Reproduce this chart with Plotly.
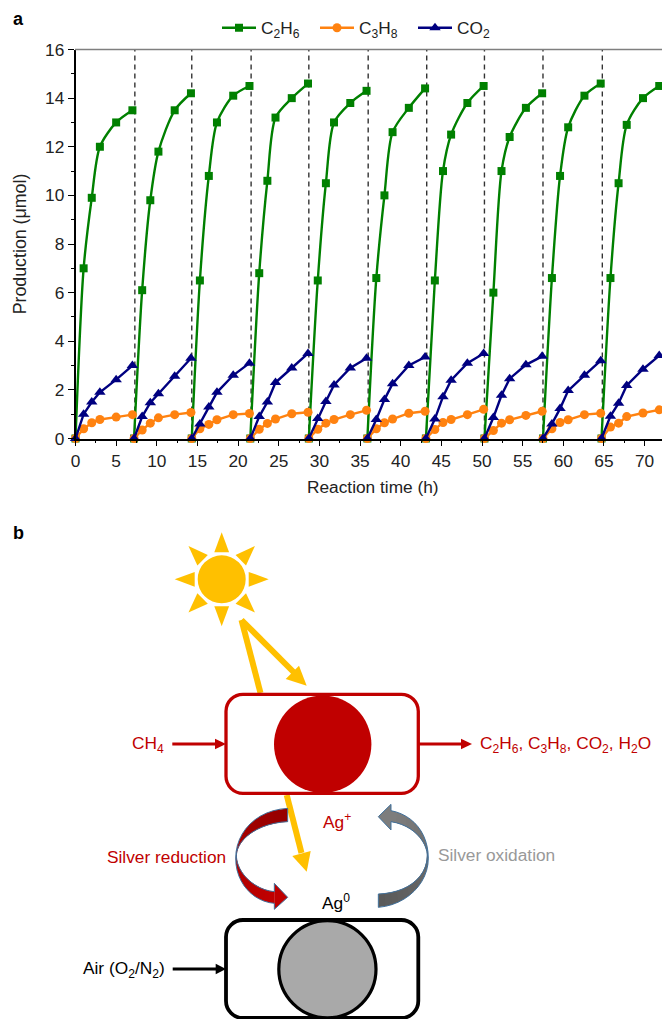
import math
import plotly.graph_objects as go

# ---------- data ----------
series_names = ["C<sub>2</sub>H<sub>6</sub>", "C<sub>3</sub>H<sub>8</sub>", "CO<sub>2</sub>"]
cycle_times = [
    [0, 1, 2, 3, 5, 7],
    [7.2, 8.2, 9.2, 10.2, 12.2, 14.2],
    [14.3, 15.3, 16.4, 17.4, 19.4, 21.4],
    [21.5, 22.6, 23.6, 24.6, 26.6, 28.6],
    [28.7, 29.8, 30.8, 31.8, 33.8, 35.8],
    [35.9, 37.0, 38.0, 39.0, 41.0, 43.0],
    [43.1, 44.2, 45.2, 46.2, 48.2, 50.2],
    [50.3, 51.4, 52.4, 53.4, 55.4, 57.4],
    [57.5, 58.6, 59.6, 60.6, 62.6, 64.6],
    [64.7, 65.8, 66.8, 67.8, 69.8, 71.8],
]
c2h6 = [
    [0, 7.0, 9.9, 12.0, 13.0, 13.5],
    [0, 6.1, 9.8, 11.8, 13.5, 14.2],
    [0, 6.5, 10.8, 13.0, 14.1, 14.5],
    [0, 6.8, 10.6, 13.2, 14.0, 14.6],
    [0, 6.5, 10.5, 13.0, 13.8, 14.3],
    [0, 6.6, 10.0, 12.6, 13.6, 14.4],
    [0, 6.5, 11.0, 12.5, 13.8, 14.5],
    [0, 6.0, 11.0, 12.4, 13.6, 14.2],
    [0, 6.6, 10.8, 12.8, 14.1, 14.6],
    [0, 6.6, 10.5, 12.9, 14.0, 14.5],
]
c3h8 = [
    [0, 0.40, 0.65, 0.78, 0.88, 0.98],
    [0, 0.35, 0.63, 0.85, 0.98, 1.07],
    [0, 0.40, 0.58, 0.77, 0.98, 1.03],
    [0, 0.38, 0.62, 0.80, 1.02, 1.08],
    [0, 0.38, 0.63, 0.78, 0.98, 1.16],
    [0, 0.40, 0.65, 0.80, 1.04, 1.12],
    [0, 0.37, 0.66, 0.78, 0.98, 1.20],
    [0, 0.33, 0.63, 0.77, 0.95, 1.12],
    [0, 0.40, 0.66, 0.77, 0.98, 1.04],
    [0, 0.47, 0.63, 0.90, 1.05, 1.18],
]
co2 = [
    [0, 1.00, 1.50, 1.90, 2.42, 3.00],
    [0, 0.90, 1.47, 1.84, 2.56, 3.30],
    [0, 0.60, 1.30, 1.90, 2.60, 3.10],
    [0, 0.90, 1.50, 2.30, 2.90, 3.50],
    [0, 0.82, 1.52, 2.20, 2.90, 3.30],
    [0, 0.78, 1.60, 2.25, 3.00, 3.35],
    [0, 0.80, 1.72, 2.40, 3.10, 3.50],
    [0, 0.86, 1.78, 2.46, 3.03, 3.38],
    [0, 0.60, 1.23, 1.97, 2.60, 3.20],
    [0, 0.92, 1.45, 2.18, 2.85, 3.41],
]
switch_times = [7.3, 14.3, 21.6, 28.7, 36.0, 43.2, 50.3, 57.5, 64.8]

W, H = 662, 1019
RED = "#C00000"
YEL = "#FFC000"
BLUE_EDGE = "#41719C"
FONT = "Liberation Sans, Arial, sans-serif"
TS = 17.3


def X(p):
    return p / W


def Y(p):
    return 1 - p / H


def flat(times, values):
    xs, ys = [], []
    for t, v in zip(times, values):
        xs += list(t) + [None]
        ys += list(v) + [None]
    return xs, ys


fig = go.Figure()
styles = [
    (c2h6, "#008000", "square", 8, "spline"),
    (c3h8, "#FF8210", "circle", 9, "linear"),
    (co2, "#000080", "triangle-up", 10, "linear"),
]
for name, (vals, col, sym, size, shape) in zip(series_names, styles):
    xs, ys = flat(cycle_times, vals)
    line = dict(color=col, width=2.4, shape=shape)
    if shape == "spline":
        line["smoothing"] = 0.8
    fig.add_trace(go.Scatter(x=xs, y=ys, name=name, mode="lines+markers", cliponaxis=False,
                             connectgaps=False, line=line,
                             marker=dict(symbol=sym, size=size, color=col, line=dict(width=0))))

shapes = []
for t in switch_times:
    shapes.append(dict(type="line", xref="x", yref="y", x0=t, x1=t, y0=0, y1=16, layer="below",
                       line=dict(color="#333333", width=1.4, dash="5px,4px")))
# grey top edge of the plot
shapes.append(dict(type="line", xref="paper", yref="paper", x0=X(75), x1=1, y0=Y(49.5), y1=Y(49.5),
                   line=dict(color="#7F7F7F", width=1.5)))


def poly(pts, **kw):
    d = "M " + " L ".join(f"{X(a):.5f},{Y(b):.5f}" for a, b in pts) + " Z"
    shapes.append(dict(type="path", xref="paper", yref="paper", path=d, **kw))


def round_rect(l, t, r, b, rad, color, width):
    k = rad * 0.45
    pts = [("M", l + rad, t), ("L", r - rad, t),
           ("C", r - k, t, r, t + k, r, t + rad), ("L", r, b - rad),
           ("C", r, b - k, r - k, b, r - rad, b), ("L", l + rad, b),
           ("C", l + k, b, l, b - k, l, b - rad), ("L", l, t + rad),
           ("C", l, t + k, l + k, t, l + rad, t)]
    d = ""
    for p in pts:
        c = p[1:]
        d += p[0] + " " + " ".join(f"{X(c[i]):.5f},{Y(c[i + 1]):.5f}" for i in range(0, len(c), 2)) + " "
    shapes.append(dict(type="path", xref="paper", yref="paper", path=d + "Z",
                       line=dict(color=color, width=width), fillcolor="rgba(0,0,0,0)"))


def circle(cx, cy, r, fill, edge=None, ew=0):
    shapes.append(dict(type="circle", xref="paper", yref="paper", x0=X(cx - r), x1=X(cx + r),
                       y0=Y(cy + r), y1=Y(cy - r), fillcolor=fill,
                       line=dict(color=edge or fill, width=ew)))


def seg(x0, y0, x1, y1, color, width):
    shapes.append(dict(type="line", xref="paper", yref="paper", x0=X(x0), x1=X(x1), y0=Y(y0), y1=Y(y1),
                       line=dict(color=color, width=width)))


# sun
SX, SY = 221.7, 579.3
circle(SX, SY, 24, YEL)
for i in range(8):
    a = i * math.pi / 4
    ca, sa = math.cos(a), math.sin(a)
    poly([(SX + 47 * ca, SY + 47 * sa),
          (SX + 27 * ca - 7.4 * sa, SY + 27 * sa + 7.4 * ca),
          (SX + 27 * ca + 7.4 * sa, SY + 27 * sa - 7.4 * ca)], fillcolor=YEL, line=dict(width=0))

# light rays
seg(241.5, 620, 260.5, 693, YEL, 6)
seg(241.5, 620, 294, 672.5, YEL, 6)
poly([(306.7, 685.7), (285.7, 679), (299, 665.7)], fillcolor=YEL, line=dict(width=0))
seg(286.7, 795, 301.5, 853, YEL, 6)
poly([(306.7, 871.7), (292.3, 856), (310.7, 851)], fillcolor=YEL, line=dict(width=0))

# particles
round_rect(226, 694.3, 418.3, 793.3, 17, RED, 3.3)
circle(322.7, 744.3, 48.7, RED)
round_rect(226, 920, 418.3, 1018, 17, "#000000", 3.8)
circle(327.4, 969.3, 48.6, "#A9A9A9", "#000000", 3.2)

# straight arrows
seg(172.3, 744, 216, 744, RED, 3)
poly([(226, 744), (215, 738.7), (215, 749.3)], fillcolor=RED, line=dict(width=0))
seg(419, 744, 462, 744, RED, 3)
poly([(472, 744), (461, 738.7), (461, 749.3)], fillcolor=RED, line=dict(width=0))
seg(172.7, 969, 216, 969, "#000000", 3)
poly([(226, 969), (215.7, 963.7), (215.7, 974.3)], fillcolor="#000000", line=dict(width=0))


def bez(p0, p1, p2, p3, n=12):
    out = []
    for i in range(n + 1):
        t = i / n
        u = 1 - t
        out.append((u**3 * p0[0] + 3 * u * u * t * p1[0] + 3 * u * t * t * p2[0] + t**3 * p3[0],
                    u**3 * p0[1] + 3 * u * u * t * p1[1] + 3 * u * t * t * p2[1] + t**3 * p3[1]))
    return out


def z6(a, b):
    return (70 + a / 3, 770 + b / 3)


def mix(c0, c1, f):
    return "rgb(%d,%d,%d)" % tuple(round(c0[i] + (c1[i] - c0[i]) * f) for i in range(3))


def curved(outer, inner, head, c0, c1):
    for i in range(len(outer) - 1):
        f = i / (len(outer) - 2)
        j = min(i + 2, len(outer) - 1)
        poly([outer[i], outer[j], inner[j], inner[i]], fillcolor=mix(c0, c1, f), line=dict(width=0))
    poly(head, fillcolor=mix(c0, c1, 1), line=dict(width=0))
    poly(outer + head + inner[::-1], fillcolor="rgba(0,0,0,0)", line=dict(color=BLUE_EDGE, width=1))


# silver reduction arrow
red_o = bez(z6(653, 115), z6(560, 120), z6(497, 185), z6(497, 265)) + \
    bez(z6(497, 265), z6(497, 340), z6(550, 395), z6(613, 400))[1:]
red_i = bez(z6(653, 155), z6(570, 158), z6(500, 205), z6(499, 257)) + \
    bez(z6(499, 257), z6(500, 310), z6(555, 360), z6(613, 365))[1:]
curved(red_o, red_i, [z6(613, 418), z6(653, 382), z6(613, 340)], (150, 0, 0), (192, 0, 0))

# silver oxidation arrow
gr_o = bez(z6(925, 412), z6(1010, 405), z6(1075, 340), z6(1075, 265)) + \
    bez(z6(1075, 265), z6(1075, 190), z6(1030, 135), z6(963, 122))[1:]
gr_i = bez(z6(925, 372), z6(1000, 370), z6(1072, 330), z6(1072, 255)) + \
    bez(z6(1072, 255), z6(1070, 215), z6(1030, 165), z6(963, 155))[1:]
curved(gr_o, gr_i, [z6(963, 103), z6(925, 140), z6(963, 180)], (90, 90, 90), (125, 125, 125))

notes = [
    ("<b>a</b>", 13, 19, "left", "#000000", 18),
    ("<b>b</b>", 13, 533, "left", "#000000", 18),
    ("Reaction time (h)", 372.5, 487, "center", "#222222", TS),
    ("CH<sub>4</sub>", 132, 744, "left", RED, TS),
    ("C<sub>2</sub>H<sub>6</sub>, C<sub>3</sub>H<sub>8</sub>, CO<sub>2</sub>, H<sub>2</sub>O", 480, 744, "left", RED, TS),
    ("Ag<sup>+</sup>", 323, 821, "left", RED, TS),
    ("Ag<sup>0</sup>", 322, 902, "left", "#000000", TS),
    ("Silver reduction", 106.5, 857, "left", RED, TS),
    ("Silver oxidation", 438, 855, "left", "#999999", TS),
    ("Air (O<sub>2</sub>/N<sub>2</sub>)", 83, 969, "left", "#000000", TS),
]
annotations = [dict(text=t, x=X(a), y=Y(b), xref="paper", yref="paper", xanchor=al, yanchor="middle",
                    showarrow=False, font=dict(family=FONT, size=s, color=c), borderpad=0, borderwidth=0)
               for t, a, b, al, c, s in notes]

fig.update_layout(
    width=W, height=H, autosize=False,
    margin=dict(l=0, r=0, t=0, b=0, pad=0, autoexpand=False),
    paper_bgcolor="white", plot_bgcolor="white",
    font=dict(family=FONT, size=TS, color="#222222"),
    shapes=shapes, annotations=annotations,
    legend=dict(orientation="h", x=X(217), y=Y(10), xanchor="left", yanchor="top",
                font=dict(family=FONT, size=TS, color="#222222"), itemwidth=34,
                entrywidth=49, entrywidthmode="pixels", bgcolor="rgba(0,0,0,0)", tracegroupgap=0),
    xaxis=dict(domain=[X(75.5), 1], range=[0, 72.14], anchor="y", tick0=0, dtick=5, ticks="outside", ticklen=6,
               tickwidth=1.3, tickcolor="#000", showline=True, linecolor="#000", linewidth=1.5,
               showgrid=False, zeroline=False, tickfont=dict(size=TS),
               minor=dict(dtick=2.5, tick0=0, ticks="outside", ticklen=3, tickwidth=1.3, tickcolor="#000", showgrid=False)),
    yaxis=dict(domain=[Y(438.5), Y(49.5)], range=[0, 16], anchor="x", tick0=0, dtick=2, ticks="outside", ticklen=6,
               tickwidth=1.3, tickcolor="#000", showline=True, linecolor="#000", linewidth=1.5,
               showgrid=False, zeroline=False, tickfont=dict(size=TS),
               minor=dict(dtick=1, tick0=0, ticks="outside", ticklen=3, tickwidth=1.3, tickcolor="#000", showgrid=False),
               title=dict(text="Production (μmol)", font=dict(size=17.8), standoff=14)),
)

fig.write_html("out.html", config=dict(displayModeBar=False),
               post_script="document.body.style.margin='0';")
